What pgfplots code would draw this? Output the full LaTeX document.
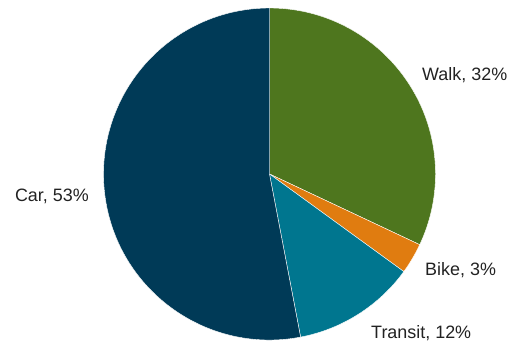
\documentclass[border=0pt]{standalone}
\usepackage{pgfplots}
\pgfplotsset{compat=1.18}
\usepackage{fontspec}
\setmainfont{Liberation Sans}
\definecolor{walkc}{HTML}{4E761E}
\definecolor{bikec}{HTML}{E07C10}
\definecolor{transitc}{HTML}{00768F}
\definecolor{carc}{HTML}{003A57}
\definecolor{txt}{HTML}{222222}
% data: percentages
\def\pWalk{32}\def\pBike{3}\def\pTransit{12}\def\pCar{53}
\begin{document}
\begin{tikzpicture}
\begin{axis}[x=1bp,y=1bp,xmin=0,xmax=512,ymin=0,ymax=345,hide axis,clip=false,
  scale only axis]
\path (axis cs:0,0) rectangle (axis cs:512,345);
\pgfmathsetmacro{\aA}{90}
\pgfmathsetmacro{\aB}{\aA-3.6*\pWalk}
\pgfmathsetmacro{\aC}{\aB-3.6*\pBike}
\pgfmathsetmacro{\aD}{\aC-3.6*\pTransit}
\pgfmathsetmacro{\aE}{\aD-3.6*\pCar}
\def\cx{269.5}\def\cy{171}\def\R{166}
\edef\temp{\noexpand\fill[overlay,walkc,draw=white,line width=0.4bp] (axis cs:\cx,\cy) -- ++(\aA:\R bp) arc[start angle=\aA,end angle=\aB,radius=\R bp] -- cycle;}\temp
\edef\temp{\noexpand\fill[overlay,bikec,draw=white,line width=0.4bp] (axis cs:\cx,\cy) -- ++(\aB:\R bp) arc[start angle=\aB,end angle=\aC,radius=\R bp] -- cycle;}\temp
\edef\temp{\noexpand\fill[overlay,transitc,draw=white,line width=0.4bp] (axis cs:\cx,\cy) -- ++(\aC:\R bp) arc[start angle=\aC,end angle=\aD,radius=\R bp] -- cycle;}\temp
\edef\temp{\noexpand\fill[overlay,carc,draw=white,line width=0.4bp] (axis cs:\cx,\cy) -- ++(\aD:\R bp) arc[start angle=\aD,end angle=\aE,radius=\R bp] -- cycle;}\temp
\node[overlay,anchor=base west,text=txt,font=\fontsize{18}{20}\selectfont,inner sep=0pt] at (axis cs:422,265) {Walk, \pWalk\%};
\node[overlay,anchor=base west,text=txt,font=\fontsize{18}{20}\selectfont,inner sep=0pt] at (axis cs:425,70) {Bike, \pBike\%};
\node[overlay,anchor=base west,text=txt,font=\fontsize{18}{20}\selectfont,inner sep=0pt] at (axis cs:371,7) {Transit, \pTransit\%};
\node[overlay,anchor=base east,text=txt,font=\fontsize{18}{20}\selectfont,inner sep=0pt] at (axis cs:89,144) {Car, \pCar\%};
\end{axis}
\end{tikzpicture}
\end{document}
